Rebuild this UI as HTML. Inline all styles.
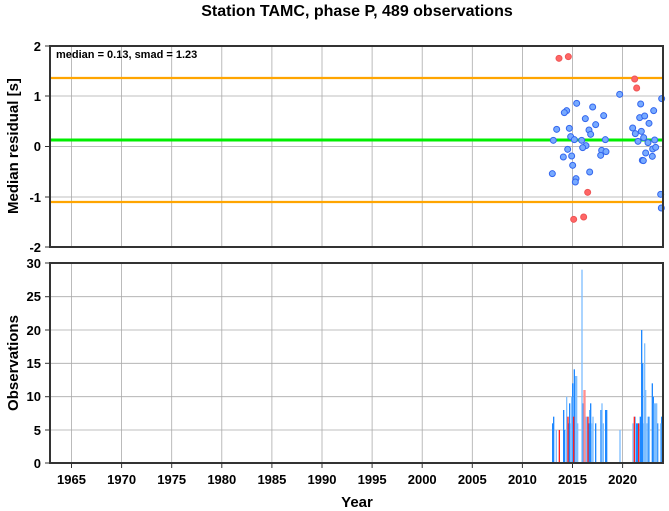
<!DOCTYPE html>
<html><head><meta charset="utf-8"><style>
html,body{margin:0;padding:0;background:#fff;}
svg{display:block;font-family:"Liberation Sans",Arial,sans-serif;font-weight:bold;}
</style></head><body>
<svg width="669" height="511" viewBox="0 0 669 511" xmlns="http://www.w3.org/2000/svg">
<text x="357" y="16" font-size="16" text-anchor="middle">Station TAMC, phase P, 489 observations</text>
<!-- grid top -->
<g stroke="#aaa" stroke-width="0.8">
<line x1="71.5" y1="46" x2="71.5" y2="247"/><line x1="121.6" y1="46" x2="121.6" y2="247"/><line x1="171.7" y1="46" x2="171.7" y2="247"/><line x1="221.8" y1="46" x2="221.8" y2="247"/><line x1="271.9" y1="46" x2="271.9" y2="247"/><line x1="322" y1="46" x2="322" y2="247"/><line x1="372.1" y1="46" x2="372.1" y2="247"/><line x1="422.2" y1="46" x2="422.2" y2="247"/><line x1="472.3" y1="46" x2="472.3" y2="247"/><line x1="522.4" y1="46" x2="522.4" y2="247"/><line x1="572.5" y1="46" x2="572.5" y2="247"/><line x1="622.6" y1="46" x2="622.6" y2="247"/>
<line x1="50" y1="96" x2="663" y2="96"/><line x1="50" y1="146.5" x2="663" y2="146.5"/><line x1="50" y1="197" x2="663" y2="197"/>
<line x1="71.5" y1="263" x2="71.5" y2="463"/><line x1="121.6" y1="263" x2="121.6" y2="463"/><line x1="171.7" y1="263" x2="171.7" y2="463"/><line x1="221.8" y1="263" x2="221.8" y2="463"/><line x1="271.9" y1="263" x2="271.9" y2="463"/><line x1="322" y1="263" x2="322" y2="463"/><line x1="372.1" y1="263" x2="372.1" y2="463"/><line x1="422.2" y1="263" x2="422.2" y2="463"/><line x1="472.3" y1="263" x2="472.3" y2="463"/><line x1="522.4" y1="263" x2="522.4" y2="463"/><line x1="572.5" y1="263" x2="572.5" y2="463"/><line x1="622.6" y1="263" x2="622.6" y2="463"/>
<line x1="50" y1="296.7" x2="663" y2="296.7"/><line x1="50" y1="330" x2="663" y2="330"/><line x1="50" y1="363.3" x2="663" y2="363.3"/><line x1="50" y1="396.7" x2="663" y2="396.7"/><line x1="50" y1="430" x2="663" y2="430"/>
</g>
<!-- lines -->
<line x1="50" y1="78" x2="663" y2="78" stroke="#ffa500" stroke-width="2.2"/>
<line x1="50" y1="202" x2="663" y2="202" stroke="#ffa500" stroke-width="2.2"/>
<line x1="50" y1="140" x2="663" y2="140" stroke="#00ee00" stroke-width="3"/>
<!-- dots -->
<g transform="translate(500,40) scale(0.33333)" stroke-width="3">
<g fill="#f66" stroke="#e55">
<circle cx="177" cy="55" r="9"/><circle cx="205" cy="50" r="9"/><circle cx="404" cy="117" r="9"/><circle cx="410" cy="144" r="9"/><circle cx="263" cy="457" r="9"/><circle cx="221" cy="538" r="9"/><circle cx="251" cy="531" r="9"/>
</g>
<g fill="#77aaff" stroke="#3366ee">
<circle cx="359" cy="163" r="9"/><circle cx="485" cy="176" r="9"/><circle cx="230" cy="190" r="9"/><circle cx="278" cy="201" r="9"/><circle cx="200" cy="212" r="9"/><circle cx="193" cy="218" r="9"/><circle cx="422" cy="192" r="9"/><circle cx="461" cy="212" r="9"/><circle cx="311" cy="227" r="9"/><circle cx="256" cy="236" r="9"/><circle cx="419" cy="233" r="9"/><circle cx="434" cy="228" r="9"/><circle cx="287" cy="254" r="9"/><circle cx="447" cy="250" r="9"/><circle cx="170" cy="268" r="9"/><circle cx="208" cy="265" r="9"/><circle cx="267" cy="270" r="9"/><circle cx="272" cy="283" r="9"/><circle cx="398" cy="264" r="9"/><circle cx="406" cy="281" r="9"/><circle cx="424" cy="274" r="9"/><circle cx="212" cy="290" r="9"/><circle cx="431" cy="293" r="9"/><circle cx="160" cy="301" r="9"/><circle cx="223" cy="299" r="9"/><circle cx="245" cy="301" r="9"/><circle cx="316" cy="299" r="9"/><circle cx="414" cy="304" r="9"/><circle cx="444" cy="308" r="9"/><circle cx="464" cy="300" r="9"/><circle cx="258" cy="317" r="9"/><circle cx="248" cy="323" r="9"/><circle cx="203" cy="328" r="9"/><circle cx="305" cy="331" r="9"/><circle cx="318" cy="335" r="9"/><circle cx="458" cy="327" r="9"/><circle cx="467" cy="322" r="9"/><circle cx="437" cy="339" r="9"/><circle cx="302" cy="346" r="9"/><circle cx="190" cy="351" r="9"/><circle cx="215" cy="348" r="9"/><circle cx="457" cy="349" r="9"/><circle cx="427" cy="361" r="9"/><circle cx="430" cy="362" r="9"/><circle cx="218" cy="376" r="9"/><circle cx="157" cy="401" r="9"/><circle cx="269" cy="396" r="9"/><circle cx="228" cy="416" r="9"/><circle cx="226" cy="426" r="9"/><circle cx="482" cy="463" r="9"/><circle cx="484" cy="504" r="9"/>
</g></g>
<!-- bars -->
<g transform="translate(500,280) scale(0.33333)">
<g fill="#1e88ff">
<rect x="156" y="430" width="4" height="120"/><rect x="159" y="410" width="4" height="140"/><rect x="189" y="390" width="4" height="160"/><rect x="192" y="450" width="4" height="100"/><rect x="204" y="430" width="4" height="120"/><rect x="207" y="370" width="4" height="180"/><rect x="216" y="310" width="4" height="240"/><rect x="221" y="268" width="4" height="282"/><rect x="247" y="370" width="4" height="180"/><rect x="265" y="430" width="4" height="120"/><rect x="268" y="390" width="4" height="160"/><rect x="270" y="370" width="4" height="180"/><rect x="285" y="430" width="4" height="120"/><rect x="301" y="390" width="4" height="160"/><rect x="315" y="390" width="4" height="160"/><rect x="318" y="390" width="4" height="160"/><rect x="407" y="430" width="4" height="120"/><rect x="411" y="430" width="4" height="120"/><rect x="419" y="410" width="4" height="140"/><rect x="423" y="150" width="4" height="400"/><rect x="426" y="250" width="4" height="300"/><rect x="443" y="410" width="4" height="140"/><rect x="455" y="310" width="4" height="240"/><rect x="458" y="350" width="4" height="200"/><rect x="471" y="430" width="4" height="120"/><rect x="483" y="410" width="4" height="140"/>
</g>
<g fill="#80bfff">
<rect x="167" y="450" width="4" height="100"/><rect x="198" y="350" width="4" height="200"/><rect x="210" y="430" width="4" height="120"/><rect x="213" y="350" width="4" height="200"/><rect x="225" y="288" width="4" height="262"/><rect x="228" y="288" width="4" height="262"/><rect x="231" y="430" width="4" height="120"/><rect x="244" y="-31" width="4" height="581"/><rect x="256" y="410" width="4" height="140"/><rect x="259" y="410" width="4" height="140"/><rect x="273" y="430" width="4" height="120"/><rect x="277" y="410" width="4" height="140"/><rect x="304" y="370" width="4" height="180"/><rect x="308" y="430" width="4" height="120"/><rect x="358" y="450" width="4" height="100"/><rect x="397" y="430" width="4" height="120"/><rect x="404" y="410" width="4" height="140"/><rect x="429" y="430" width="4" height="120"/><rect x="432" y="190" width="4" height="360"/><rect x="435" y="330" width="4" height="220"/><rect x="439" y="430" width="4" height="120"/><rect x="446" y="410" width="4" height="140"/><rect x="461" y="370" width="4" height="180"/><rect x="465" y="370" width="4" height="180"/><rect x="468" y="370" width="4" height="180"/><rect x="480" y="430" width="4" height="120"/><rect x="486" y="390" width="4" height="160"/>
</g>
<g fill="#ff2020">
<rect x="176" y="450" width="4" height="100"/><rect x="202" y="410" width="4" height="140"/><rect x="219" y="410" width="4" height="140"/><rect x="262" y="410" width="4" height="140"/><rect x="401" y="410" width="4" height="140"/><rect x="414" y="430" width="4" height="120"/>
</g>
<g fill="#ff9090"><rect x="250" y="330" width="4" height="220"/><rect x="253" y="330" width="4" height="220"/></g>
</g>
<!-- frames -->
<rect x="50" y="46" width="613" height="201" fill="none" stroke="#333" stroke-width="2"/>
<rect x="50" y="263" width="613" height="200" fill="none" stroke="#333" stroke-width="2"/>
<g stroke="#333" stroke-width="1">
<line x1="45" y1="46" x2="50" y2="46"/><line x1="45" y1="96" x2="50" y2="96"/><line x1="45" y1="146.5" x2="50" y2="146.5"/><line x1="45" y1="197" x2="50" y2="197"/><line x1="45" y1="247" x2="50" y2="247"/>
<line x1="45" y1="263" x2="50" y2="263"/><line x1="45" y1="296.7" x2="50" y2="296.7"/><line x1="45" y1="330" x2="50" y2="330"/><line x1="45" y1="363.3" x2="50" y2="363.3"/><line x1="45" y1="396.7" x2="50" y2="396.7"/><line x1="45" y1="430" x2="50" y2="430"/><line x1="45" y1="463" x2="50" y2="463"/>
<line x1="71.5" y1="463" x2="71.5" y2="468"/><line x1="121.6" y1="463" x2="121.6" y2="468"/><line x1="171.7" y1="463" x2="171.7" y2="468"/><line x1="221.8" y1="463" x2="221.8" y2="468"/><line x1="271.9" y1="463" x2="271.9" y2="468"/><line x1="322" y1="463" x2="322" y2="468"/><line x1="372.1" y1="463" x2="372.1" y2="468"/><line x1="422.2" y1="463" x2="422.2" y2="468"/><line x1="472.3" y1="463" x2="472.3" y2="468"/><line x1="522.4" y1="463" x2="522.4" y2="468"/><line x1="572.5" y1="463" x2="572.5" y2="468"/><line x1="622.6" y1="463" x2="622.6" y2="468"/>
</g>
<text x="56" y="58" font-size="11">median = 0.13, smad = 1.23</text>
<g font-size="13" text-anchor="end">
<text x="41" y="51">2</text><text x="41" y="101">1</text><text x="41" y="151">0</text><text x="41" y="202">-1</text><text x="41" y="252">-2</text>
<text x="41" y="268">30</text><text x="41" y="301">25</text><text x="41" y="335">20</text><text x="41" y="368">15</text><text x="41" y="401">10</text><text x="41" y="435">5</text><text x="41" y="468">0</text>
</g>
<g font-size="13" text-anchor="middle">
<text x="71.5" y="484">1965</text><text x="121.6" y="484">1970</text><text x="171.7" y="484">1975</text><text x="221.8" y="484">1980</text><text x="271.9" y="484">1985</text><text x="322" y="484">1990</text><text x="372.1" y="484">1995</text><text x="422.2" y="484">2000</text><text x="472.3" y="484">2005</text><text x="522.4" y="484">2010</text><text x="572.5" y="484">2015</text><text x="622.6" y="484">2020</text>
</g>
<text x="357" y="507" font-size="15" text-anchor="middle">Year</text>
<text transform="translate(18,146) rotate(-90)" font-size="15" text-anchor="middle">Median residual [s]</text>
<text transform="translate(18,363) rotate(-90)" font-size="15" text-anchor="middle">Observations</text>
</svg>
</body></html>
